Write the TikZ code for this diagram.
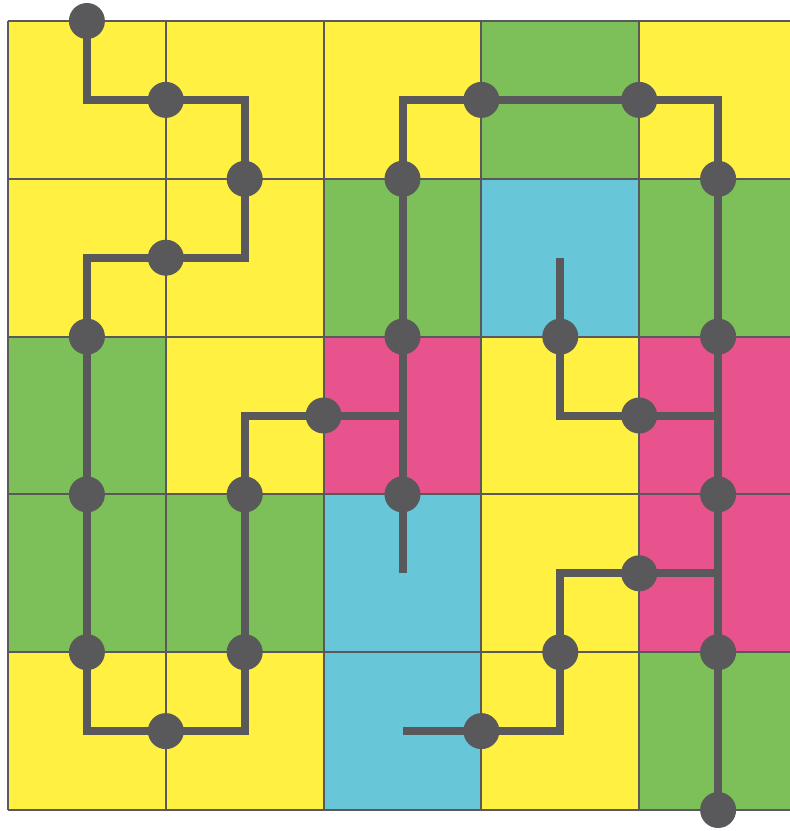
\documentclass[tikz,border=0pt]{standalone}
\definecolor{cy}{HTML}{FFF041}
\definecolor{cg}{HTML}{7DC059}
\definecolor{cb}{HTML}{68C6D9}
\definecolor{cp}{HTML}{E8538E}
\definecolor{ink}{HTML}{59585B}
\tikzset{
  cell/.style={draw=ink, line width=2pt},
  track/.style={draw=ink, line width=8pt, line join=miter, line cap=butt},
  dot/.style={circle, fill=ink, inner sep=0pt, minimum size=36pt},
}
\begin{document}
\begin{tikzpicture}[x=1pt,y=-1pt]
\useasboundingbox (0,0) rectangle (790,831);
\foreach \i in {0,...,10}{
  \foreach \j in {0,...,10}{
    \coordinate (p\i-\j) at ({8+78.9*\i},{21+78.9*\j});
  }
}
% cells: row by row colours
\foreach \c [count=\k from 0] in {cy,cy,cy,cg,cy, cy,cy,cg,cb,cg, cg,cy,cp,cy,cp, cg,cg,cb,cy,cp, cy,cy,cb,cy,cg}{
  \pgfmathtruncatemacro{\col}{mod(\k,5)}
  \pgfmathtruncatemacro{\row}{div(\k,5)}
  \fill[\c] ({8+157.8*\col},{21+157.8*\row}) rectangle ++(157.8,157.8);
}
\foreach \n in {0,...,5}{
  \draw[cell] ({8+157.8*\n},21) -- ({8+157.8*\n},810);
  \draw[cell] (8,{21+157.8*\n}) -- (797,{21+157.8*\n});
}
% tracks
\draw[track] (p1-0) -- (p1-1) -- (p3-1) -- (p3-3) -- (p1-3) -- (p1-9) -- (p3-9) -- (p3-5) -- (p5-5);
\draw[track] (p5-7) -- (p5-1) -- (p9-1) -- (p9-10);
\draw[track] (p9-5) -- (p7-5) -- (p7-3);
\draw[track] (p9-7) -- (p7-7) -- (p7-9) -- (p5-9);
% dots
\foreach \i/\j in {1/0,2/1,3/2,2/3,1/4,1/6,1/8,2/9,3/8,3/6,4/5,5/2,5/4,5/6,6/1,8/1,9/2,9/4,9/6,9/8,9/10,8/5,7/4,8/7,7/8,6/9}{
  \node[dot] (d\i-\j) at (p\i-\j) {};
}
\end{tikzpicture}
\end{document}
